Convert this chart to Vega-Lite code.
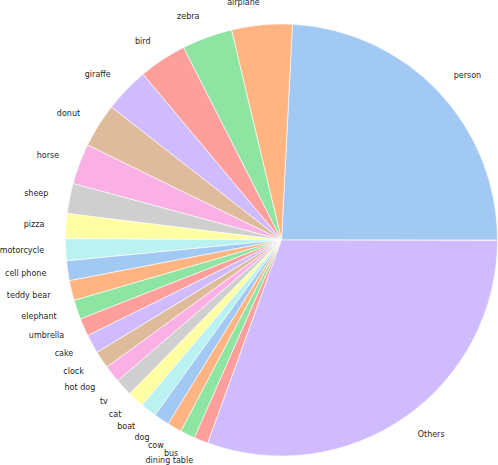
{
  "$schema": "https://vega.github.io/schema/vega-lite/v6.json",
  "width": 432,
  "height": 432,
  "autosize": {"type": "none"},
  "padding": {"left": 65.5, "top": 24, "right": 0.5, "bottom": 9},
  "background": "white",
  "view": {"stroke": null},
  "config": {"text": {"font": "DejaVu Sans", "fontSize": 8, "color": "#262626"}},
  "data": {
    "values": [
      {"rank": 1, "category": "person", "value": 87.1},
      {"rank": 2, "category": "airplane", "value": 16.3},
      {"rank": 3, "category": "zebra", "value": 13.6},
      {"rank": 4, "category": "bird", "value": 12.9},
      {"rank": 5, "category": "giraffe", "value": 12.1},
      {"rank": 6, "category": "donut", "value": 11.9},
      {"rank": 7, "category": "horse", "value": 10.95},
      {"rank": 8, "category": "sheep", "value": 8.1},
      {"rank": 9, "category": "pizza", "value": 6.7},
      {"rank": 10, "category": "motorcycle", "value": 5.9},
      {"rank": 11, "category": "cell phone", "value": 5.3},
      {"rank": 12, "category": "teddy bear", "value": 5.4},
      {"rank": 13, "category": "elephant", "value": 5.2},
      {"rank": 14, "category": "umbrella", "value": 4.8},
      {"rank": 15, "category": "cake", "value": 5.1},
      {"rank": 16, "category": "clock", "value": 4.7},
      {"rank": 17, "category": "hot dog", "value": 4.65},
      {"rank": 18, "category": "tv", "value": 4.65},
      {"rank": 19, "category": "cat", "value": 4.5},
      {"rank": 20, "category": "boat", "value": 4.3},
      {"rank": 21, "category": "dog", "value": 4.2},
      {"rank": 22, "category": "cow", "value": 3.9},
      {"rank": 23, "category": "bus", "value": 4.0},
      {"rank": 24, "category": "dining table", "value": 3.8},
      {"rank": 25, "category": "Others", "value": 109.85}
    ]
  },
  "transform": [
    {"stack": "value", "groupby": [], "sort": [{"field": "rank", "order": "ascending"}], "as": ["v0", "v1"]},
    {"calculate": "(datum.v0 + datum.v1) / 2", "as": "mid"}
  ],
  "layer": [
    {
      "mark": {"type": "arc", "stroke": "white", "strokeWidth": 0.6},
      "encoding": {
        "theta": {"field": "v0", "type": "quantitative", "scale": {"domain": [0, 360], "range": [1.5707963, -4.712389]}},
        "theta2": {"field": "v1"},
        "color": {
          "field": "category",
          "type": "nominal",
          "legend": null,
          "scale": {
            "domain": ["person", "airplane", "zebra", "bird", "giraffe", "donut", "horse", "sheep", "pizza", "motorcycle", "cell phone", "teddy bear", "elephant", "umbrella", "cake", "clock", "hot dog", "tv", "cat", "boat", "dog", "cow", "bus", "dining table", "Others"],
            "range": ["#a1c9f4", "#ffb482", "#8de5a1", "#ff9f9b", "#d0bbff", "#debb9b", "#fab0e4", "#cfcfcf", "#fffea3", "#b9f2f0", "#a1c9f4", "#ffb482", "#8de5a1", "#ff9f9b", "#d0bbff", "#debb9b", "#fab0e4", "#cfcfcf", "#fffea3", "#b9f2f0", "#a1c9f4", "#ffb482", "#8de5a1", "#ff9f9b", "#d0bbff"]
          }
        }
      }
    },
    {
      "transform": [{"filter": "datum.category == 'person' || datum.category == 'Others'"}],
      "mark": {"type": "text", "radius": 237.6, "align": "left", "baseline": "middle"},
      "encoding": {
        "theta": {"field": "mid", "type": "quantitative"},
        "text": {"field": "category"}
      }
    },
    {
      "transform": [{"filter": "datum.category != 'person' && datum.category != 'Others'"}],
      "mark": {"type": "text", "radius": 237.6, "align": "right", "baseline": "middle"},
      "encoding": {
        "theta": {"field": "mid", "type": "quantitative"},
        "text": {"field": "category"}
      }
    }
  ]
}
